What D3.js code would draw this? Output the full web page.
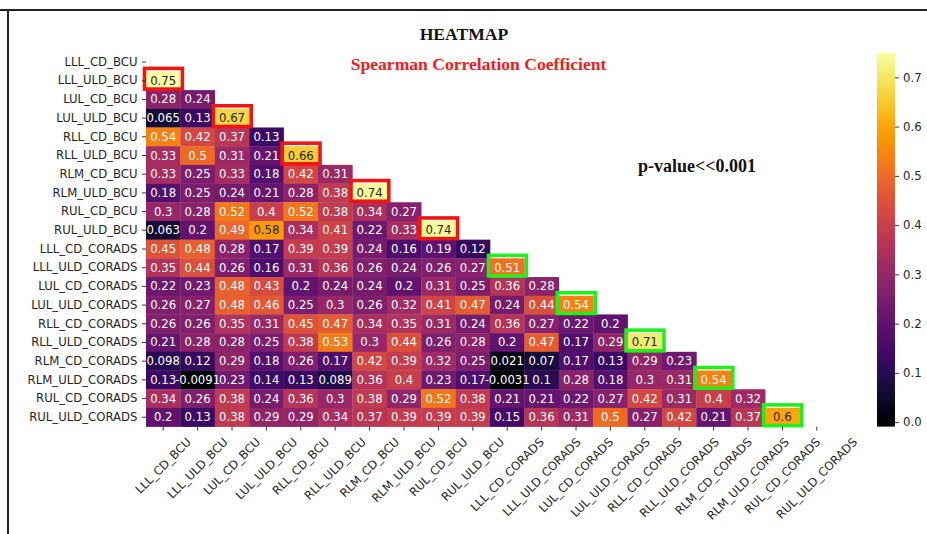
<!DOCTYPE html>
<html>
<head>
<meta charset="utf-8">
<script src="https://cdn.jsdelivr.net/npm/d3@7"></script>
<style>
  html, body { margin: 0; padding: 0; background: #fff; }
  svg { display: block; }
</style>
</head>
<body>
<svg id="chart" width="927" height="534"></svg>
<script>
// Lung-region scores (BCU and CO-RADS), lower-triangle Spearman correlations
const labels = [
  "LLL_CD_BCU", "LLL_ULD_BCU", "LUL_CD_BCU", "LUL_ULD_BCU", "RLL_CD_BCU",
  "RLL_ULD_BCU", "RLM_CD_BCU", "RLM_ULD_BCU", "RUL_CD_BCU", "RUL_ULD_BCU",
  "LLL_CD_CORADS", "LLL_ULD_CORADS", "LUL_CD_CORADS", "LUL_ULD_CORADS", "RLL_CD_CORADS",
  "RLL_ULD_CORADS", "RLM_CD_CORADS", "RLM_ULD_CORADS", "RUL_CD_CORADS", "RUL_ULD_CORADS"
];

// row i holds the correlations with columns 0..i-1
const rho = [
  [],
  [0.75],
  [0.28, 0.24],
  [0.065, 0.13, 0.67],
  [0.54, 0.42, 0.37, 0.13],
  [0.33, 0.5, 0.31, 0.21, 0.66],
  [0.33, 0.25, 0.33, 0.18, 0.42, 0.31],
  [0.18, 0.25, 0.24, 0.21, 0.28, 0.38, 0.74],
  [0.3, 0.28, 0.52, 0.4, 0.52, 0.38, 0.34, 0.27],
  [0.063, 0.2, 0.49, 0.58, 0.34, 0.41, 0.22, 0.33, 0.74],
  [0.45, 0.48, 0.28, 0.17, 0.39, 0.39, 0.24, 0.16, 0.19, 0.12],
  [0.35, 0.44, 0.26, 0.16, 0.31, 0.36, 0.26, 0.24, 0.26, 0.27, 0.51],
  [0.22, 0.23, 0.48, 0.43, 0.2, 0.24, 0.24, 0.2, 0.31, 0.25, 0.36, 0.28],
  [0.26, 0.27, 0.48, 0.46, 0.25, 0.3, 0.26, 0.32, 0.41, 0.47, 0.24, 0.44, 0.54],
  [0.26, 0.26, 0.35, 0.31, 0.45, 0.47, 0.34, 0.35, 0.31, 0.24, 0.36, 0.27, 0.22, 0.2],
  [0.21, 0.28, 0.28, 0.25, 0.38, 0.53, 0.3, 0.44, 0.26, 0.28, 0.2, 0.47, 0.17, 0.29, 0.71],
  [0.098, 0.12, 0.29, 0.18, 0.26, 0.17, 0.42, 0.39, 0.32, 0.25, 0.021, 0.07, 0.17, 0.13, 0.29, 0.23],
  [0.13, -0.0091, 0.23, 0.14, 0.13, 0.089, 0.36, 0.4, 0.23, 0.17, -0.0031, 0.1, 0.28, 0.18, 0.3, 0.31, 0.54],
  [0.34, 0.26, 0.38, 0.24, 0.36, 0.3, 0.38, 0.29, 0.52, 0.38, 0.21, 0.21, 0.22, 0.27, 0.42, 0.31, 0.4, 0.32],
  [0.2, 0.13, 0.38, 0.29, 0.29, 0.34, 0.37, 0.39, 0.39, 0.39, 0.15, 0.36, 0.31, 0.5, 0.27, 0.42, 0.21, 0.37, 0.6]
];

// CD vs ULD pairs of the same lobe and method (row index; column is row - 1)
const bcuPairRows = [1, 3, 5, 7, 9];
const coradsPairRows = [11, 13, 15, 17, 19];

const colorbarTicks = [0.0, 0.1, 0.2, 0.3, 0.4, 0.5, 0.6, 0.7];

const titleText = "HEATMAP";
const subtitleText = "Spearman Correlation Coefficient";
const pValueText = "p-value<<0.001";

// ---------------------------------------------------------------
const svg = d3.select("#chart");
const W = 927, H = 534;
const sansFont = "'DejaVu Sans', sans-serif";
const serifFont = "'Liberation Serif', 'Times New Roman', serif";
const fs = 11.7;

// page frame
svg.append("rect").attr("x", 0).attr("y", 0).attr("width", W).attr("height", H).attr("fill", "#fff");
svg.append("line").attr("x1", 0).attr("x2", W).attr("y1", 10).attr("y2", 10)
  .attr("stroke", "#222").attr("stroke-width", 2);
svg.append("line").attr("x1", 8).attr("x2", 8).attr("y1", 10).attr("y2", H)
  .attr("stroke", "#222").attr("stroke-width", 2);

const cells = [];
rho.forEach((row, i) => row.forEach((v, j) => cells.push({ r: labels[i], c: labels[j], i, j, v })));
const allVals = cells.map(d => d.v);
const vmin = d3.min(allVals), vmax = d3.max(allVals);

const x = d3.scaleBand().domain(labels).range([146, 834]);
const y = d3.scaleBand().domain(labels).range([52.7, 426.6]);
const color = d3.scaleSequential(d3.interpolateInferno).domain([vmin, vmax]);

function luminance(c) {
  const rgb = d3.rgb(c);
  const lin = v => { v /= 255; return v <= 0.03928 ? v / 12.92 : Math.pow((v + 0.055) / 1.055, 2.4); };
  return 0.2126 * lin(rgb.r) + 0.7152 * lin(rgb.g) + 0.0722 * lin(rgb.b);
}

// cells
const g = svg.append("g");
g.selectAll("rect.cell").data(cells).join("rect")
  .attr("class", "cell")
  .attr("x", d => x(d.c)).attr("y", d => y(d.r))
  .attr("width", x.bandwidth() + 0.3).attr("height", y.bandwidth() + 0.3)
  .attr("fill", d => color(d.v));

g.selectAll("text.val").data(cells).join("text")
  .attr("class", "val")
  .attr("x", d => x(d.c) + x.bandwidth() / 2)
  .attr("y", d => y(d.r) + y.bandwidth() / 2)
  .attr("text-anchor", "middle").attr("dominant-baseline", "central")
  .attr("font-family", sansFont).attr("font-size", fs)
  .attr("fill", d => luminance(color(d.v)) > 0.36 ? "#262626" : "#ffffff")
  .text(d => String(d.v));

// highlighted pairs
function boxes(rows, stroke) {
  svg.append("g").selectAll("rect").data(rows).join("rect")
    .attr("x", i => x(labels[i - 1]) - 1.5)
    .attr("y", i => y(labels[i]) - 3)
    .attr("width", x.bandwidth() + 3.5)
    .attr("height", y.bandwidth() + 2)
    .attr("fill", "none").attr("stroke", stroke).attr("stroke-width", 3.6);
}
boxes(bcuPairRows, "#f01414");
boxes(coradsPairRows, "#1ef01e");

// y axis (row labels)
const yAxis = svg.append("g").attr("transform", "translate(146,0)")
  .call(d3.axisLeft(y).tickSize(4).tickPadding(4.5));
yAxis.select(".domain").remove();
yAxis.selectAll("line").attr("stroke", "#333").attr("stroke-width", 1);
yAxis.selectAll("text").attr("font-family", sansFont).attr("font-size", fs).attr("fill", "#262626");

// x axis (rotated labels)
const xAxisY = 426.6;
const xAxis = svg.append("g").attr("transform", `translate(0,${xAxisY})`)
  .call(d3.axisBottom(x).tickSize(4).tickFormat(""));
xAxis.select(".domain").remove();
xAxis.selectAll("line").attr("stroke", "#333").attr("stroke-width", 1);

const asc = 0.93 * fs, desc = 0.24 * fs, k = Math.SQRT1_2;
const labelTop = xAxisY + 8.5;
const xl = svg.append("g");
labels.forEach(lab => {
  const t = xl.append("text")
    .attr("font-family", sansFont).attr("font-size", fs).attr("fill", "#262626")
    .text(lab);
  const L = t.node().getComputedTextLength();
  const cx = x(lab) + x.bandwidth() / 2;
  const sx = cx - k * (L + desc - asc) / 2;
  const sy = labelTop + k * (L + asc);
  t.attr("transform", `translate(${sx},${sy}) rotate(-45)`);
});

// colorbar
const cbX = 877, cbW = 18;
const cbScale = d3.scaleLinear().domain([vmin, vmax]).range([426.6, 52.7]);
const defs = svg.append("defs");
const grad = defs.append("linearGradient").attr("id", "cbgrad")
  .attr("x1", 0).attr("y1", 1).attr("x2", 0).attr("y2", 0);
d3.range(0, 1.0001, 0.02).forEach(t => {
  grad.append("stop").attr("offset", t).attr("stop-color", d3.interpolateInferno(t));
});
svg.append("rect").attr("x", cbX).attr("y", 52.7).attr("width", cbW).attr("height", 426.6 - 52.7)
  .attr("fill", "url(#cbgrad)");
const cbAxis = svg.append("g").attr("transform", `translate(${cbX + cbW},0)`)
  .call(d3.axisRight(cbScale).tickValues(colorbarTicks).tickFormat(d3.format(".1f")).tickSize(4).tickPadding(4));
cbAxis.select(".domain").remove();
cbAxis.selectAll("line").attr("stroke", "#333");
cbAxis.selectAll("text").attr("font-family", sansFont).attr("font-size", fs).attr("fill", "#262626");

// titles and annotation
svg.append("text").attr("x", 464).attr("y", 40).attr("text-anchor", "middle")
  .attr("font-family", serifFont).attr("font-weight", "bold").attr("font-size", 17.6)
  .attr("fill", "#111").text(titleText);
svg.append("text").attr("x", 478.5).attr("y", 70).attr("text-anchor", "middle")
  .attr("font-family", serifFont).attr("font-weight", "bold").attr("font-size", 17.6)
  .attr("fill", "#f21c1c").text(subtitleText);
svg.append("text").attr("x", 638).attr("y", 172)
  .attr("font-family", serifFont).attr("font-weight", "bold").attr("font-size", 18)
  .attr("fill", "#111").text(pValueText);
</script>
</body>
</html>
